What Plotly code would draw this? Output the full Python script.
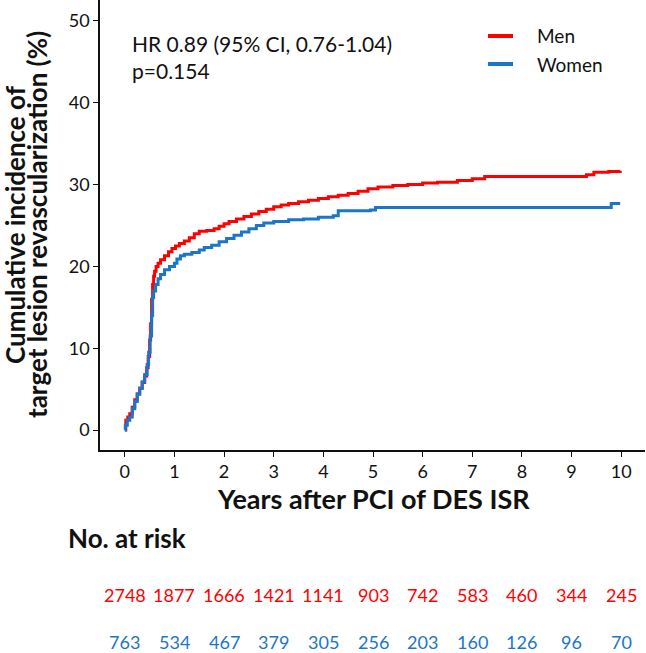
import plotly.graph_objects as go

# ---- data ----
men_t = [0, 0.02, 0.06, 0.1, 0.15, 0.2, 0.25, 0.3, 0.35, 0.4, 0.44, 0.47, 0.5, 0.52, 0.54, 0.56, 0.58, 0.6,
         0.63, 0.67, 0.72, 0.8, 0.88, 0.95, 1.02, 1.1, 1.2, 1.3, 1.4, 1.5, 1.65, 1.8, 1.9, 2.0, 2.1, 2.25,
         2.4, 2.55, 2.7, 2.85, 3.0, 3.15, 3.3, 3.5, 3.7, 3.9, 4.1, 4.3, 4.5, 4.7, 4.9, 5.1, 5.4, 5.7, 6.0,
         6.3, 6.7, 7.0, 7.25, 9.3, 9.45, 9.75, 9.98]
men_v = [0, 1.2, 1.6, 2.0, 2.8, 3.7, 4.4, 5.1, 5.8, 6.6, 7.6, 9.0, 11.0, 13.0, 16.0, 17.8, 18.8, 19.4,
         20.0, 20.4, 20.8, 21.3, 21.8, 22.2, 22.5, 22.8, 23.1, 23.5, 24.0, 24.3, 24.4, 24.6, 24.9, 25.2, 25.5, 25.8,
         26.1, 26.4, 26.7, 27.0, 27.3, 27.5, 27.7, 27.9, 28.1, 28.3, 28.5, 28.7, 28.9, 29.2, 29.5, 29.7, 29.9, 30.0, 30.2,
         30.3, 30.5, 30.7, 31.0, 31.2, 31.5, 31.6, 31.7]

women_t = [0, 0.01, 0.05, 0.1, 0.15, 0.2, 0.25, 0.3, 0.35, 0.4, 0.45, 0.48, 0.51, 0.54, 0.56, 0.58, 0.62,
           0.67, 0.72, 0.8, 0.9, 1.0, 1.05, 1.12, 1.2, 1.35, 1.5, 1.6, 1.75, 1.9, 2.05, 2.2, 2.35, 2.5, 2.65,
           2.8, 3.0, 3.3, 3.6, 3.9, 4.2, 4.3, 4.6, 4.95, 5.05, 9.8, 9.98]
women_v = [0, 0.6, 1.2, 1.6, 2.6, 3.5, 4.4, 5.1, 5.9, 6.8, 8.0, 9.5, 11.5, 14.0, 16.2, 17.0, 17.8,
           18.5, 19.0, 19.6, 20.0, 20.4, 20.9, 21.3, 21.5, 21.7, 22.0, 22.3, 22.6, 23.0, 23.4, 23.8, 24.2, 24.6, 25.0,
           25.3, 25.5, 25.7, 25.8, 26.0, 26.2, 26.8, 26.8, 26.9, 27.2, 27.7, 27.7]

risk_years = [0, 1, 2, 3, 4, 5, 6, 7, 8, 9, 10]
risk_men = [2748, 1877, 1666, 1421, 1141, 903, 742, 583, 460, 344, 245]
risk_women = [763, 534, 467, 379, 305, 256, 203, 160, 126, 96, 70]

x_ticks = [0, 1, 2, 3, 4, 5, 6, 7, 8, 9, 10]
y_ticks = [0, 10, 20, 30, 40, 50]

group_names = ["Men", "Women"]

RED = "#FF0000"
BLUE = "#1B75C9"
INK = "#111111"
FONT = "Lato"

fig = go.Figure()
fig.add_trace(go.Scatter(x=men_t, y=men_v, mode="lines", line=dict(color=RED, width=3, shape="hv"),
                         name=group_names[0], showlegend=False))
fig.add_trace(go.Scatter(x=women_t, y=women_v, mode="lines", line=dict(color=BLUE, width=3, shape="hv"),
                         name=group_names[1], showlegend=False))

fig.update_layout(
    width=646, height=653,
    margin=dict(l=100, r=1, t=0, b=203),
    paper_bgcolor="white", plot_bgcolor="white",
    font=dict(family=FONT, color=INK),
    showlegend=False,
)
fig.update_xaxes(range=[-0.5, 10.48], tickvals=x_ticks, ticktext=[str(v) for v in x_ticks],
                 showgrid=False, zeroline=False, showline=True, linecolor=INK, linewidth=1.5,
                 ticks="outside", ticklen=5, tickwidth=1.2, tickcolor=INK,
                 tickfont=dict(size=18, family=FONT, color=INK))
fig.update_yaxes(range=[-2.44, 52.56], tickvals=y_ticks, ticktext=[str(v) for v in y_ticks],
                 showgrid=False, zeroline=False, showline=True, linecolor=INK, linewidth=1.5,
                 ticks="outside", ticklen=5, tickwidth=1.2, tickcolor=INK,
                 tickfont=dict(size=18, family=FONT, color=INK))

ann = []
# y-axis title (two lines)
ann.append(dict(text="<b>Cumulative incidence of</b>", xref="paper", yref="paper", x=(15 - 100) / 545, y=0.5,
                xanchor="center", yanchor="middle", textangle=-90, showarrow=False,
                font=dict(size=26, family=FONT, color=INK)))
ann.append(dict(text="<b>target lesion revascularization (%)</b>", xref="paper", yref="paper",
                x=(37 - 100) / 545, y=0.5,
                xanchor="center", yanchor="middle", textangle=-90, showarrow=False,
                font=dict(size=26, family=FONT, color=INK)))
# x-axis title
ann.append(dict(text="<b>Years after PCI of DES ISR</b>", xref="x", yref="paper", x=5.0, y=-0.1067,
                xanchor="center", yanchor="middle", showarrow=False,
                font=dict(size=27, family=FONT, color=INK)))
# HR text
ann.append(dict(text="HR 0.89 (95% CI, 0.76-1.04)<br>p=0.154", xref="x", yref="y", x=0.1, y=45.65,
                xanchor="left", yanchor="middle", align="left", showarrow=False,
                font=dict(size=21, family=FONT, color=INK)))
# legend (manual)
shapes = []
for name, col, ypx in zip(group_names, [RED, BLUE], [36, 64]):
    yp = 1 - ypx / 450
    shapes.append(dict(type="line", xref="paper", yref="paper", x0=(488 - 100) / 545, x1=(513 - 100) / 545,
                       y0=yp, y1=yp, line=dict(color=col, width=4)))
    ann.append(dict(text=name, xref="paper", yref="paper", x=(535 - 100) / 545, y=yp,
                    xanchor="left", yanchor="middle", showarrow=False,
                    font=dict(size=19, family=FONT, color=INK)))
# Risk table
ann.append(dict(text="<b>No. at risk</b>", xref="paper", yref="paper", x=-0.0624, y=-0.1956,
                xanchor="left", yanchor="middle", showarrow=False,
                font=dict(size=26, family=FONT, color=INK)))
for yr, n in zip(risk_years, risk_men):
    ann.append(dict(text=str(n), xref="x", yref="paper", x=yr, y=-0.322, xanchor="center", yanchor="middle",
                    showarrow=False, font=dict(size=18, family=FONT, color=RED)))
for yr, n in zip(risk_years, risk_women):
    ann.append(dict(text=str(n), xref="x", yref="paper", x=yr, y=-0.427, xanchor="center", yanchor="middle",
                    showarrow=False, font=dict(size=18, family=FONT, color=BLUE)))
fig.update_layout(annotations=ann, shapes=shapes)

fig.write_html("out.html")
